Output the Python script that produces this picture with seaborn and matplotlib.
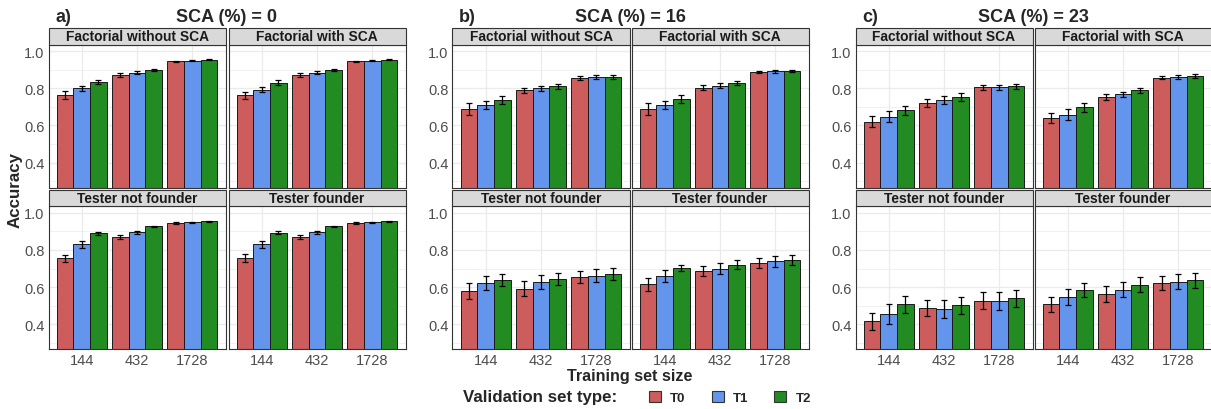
import numpy as np
import pandas as pd
import matplotlib
matplotlib.use("Agg")
import matplotlib.pyplot as plt
from matplotlib.patches import Rectangle, Patch
import seaborn as sns

sizes = ["144", "432", "1728"]
types = ["T0", "T1", "T2"]
facets = ["Factorial without SCA", "Factorial with SCA", "Tester not founder", "Tester founder"]
sca_levels = ["0", "16", "23"]
panel_tags = ["a)", "b)", "c)"]
colors = ["#CD5C5C", "#6495ED", "#228B22"]

# accuracy, order: 144 (T0,T1,T2), 432 (T0,T1,T2), 1728 (T0,T1,T2)
sca0_fac_no = [0.765, 0.800, 0.835, 0.871, 0.885, 0.900, 0.945, 0.949, 0.953]
sca0_fac_sca = [0.762, 0.793, 0.831, 0.871, 0.885, 0.900, 0.945, 0.949, 0.953]
sca0_tes_no = [0.755, 0.830, 0.891, 0.868, 0.895, 0.927, 0.945, 0.948, 0.955]
sca0_tes_fo = [0.757, 0.830, 0.893, 0.868, 0.895, 0.927, 0.945, 0.948, 0.955]
sca16_fac_no = [0.689, 0.711, 0.738, 0.789, 0.800, 0.811, 0.855, 0.860, 0.860]
sca16_fac_sca = [0.689, 0.711, 0.742, 0.804, 0.815, 0.827, 0.887, 0.891, 0.893]
sca16_tes_no = [0.577, 0.623, 0.639, 0.591, 0.627, 0.645, 0.655, 0.662, 0.670]
sca16_tes_fo = [0.614, 0.659, 0.702, 0.686, 0.698, 0.720, 0.730, 0.738, 0.745]
sca23_fac_no = [0.621, 0.648, 0.682, 0.720, 0.737, 0.753, 0.805, 0.805, 0.811]
sca23_fac_sca = [0.639, 0.659, 0.697, 0.753, 0.767, 0.789, 0.858, 0.860, 0.865]
sca23_tes_no = [0.416, 0.455, 0.507, 0.487, 0.482, 0.502, 0.527, 0.527, 0.539]
sca23_tes_fo = [0.507, 0.545, 0.584, 0.564, 0.586, 0.612, 0.623, 0.629, 0.636]

# half width of error bars, same order
sca0_fac_no_err = [0.020, 0.015, 0.012, 0.010, 0.008, 0.006, 0.003, 0.003, 0.003]
sca0_fac_sca_err = [0.020, 0.015, 0.012, 0.010, 0.008, 0.006, 0.003, 0.003, 0.003]
sca0_tes_no_err = [0.020, 0.017, 0.008, 0.010, 0.008, 0.004, 0.003, 0.003, 0.003]
sca0_tes_fo_err = [0.020, 0.017, 0.008, 0.010, 0.008, 0.004, 0.003, 0.003, 0.003]
sca16_fac_no_err = [0.030, 0.022, 0.022, 0.015, 0.015, 0.013, 0.010, 0.010, 0.010]
sca16_fac_sca_err = [0.030, 0.022, 0.022, 0.012, 0.012, 0.010, 0.006, 0.006, 0.006]
sca16_tes_no_err = [0.043, 0.037, 0.034, 0.040, 0.037, 0.032, 0.032, 0.033, 0.033]
sca16_tes_fo_err = [0.037, 0.032, 0.018, 0.025, 0.030, 0.025, 0.028, 0.028, 0.027]
sca23_fac_no_err = [0.030, 0.030, 0.025, 0.022, 0.020, 0.020, 0.015, 0.015, 0.015]
sca23_fac_sca_err = [0.028, 0.028, 0.025, 0.015, 0.015, 0.015, 0.010, 0.010, 0.010]
sca23_tes_no_err = [0.045, 0.055, 0.047, 0.044, 0.050, 0.047, 0.047, 0.049, 0.046]
sca23_tes_fo_err = [0.040, 0.044, 0.039, 0.042, 0.042, 0.041, 0.038, 0.040, 0.040]

means = [[sca0_fac_no, sca0_fac_sca, sca0_tes_no, sca0_tes_fo],
         [sca16_fac_no, sca16_fac_sca, sca16_tes_no, sca16_tes_fo],
         [sca23_fac_no, sca23_fac_sca, sca23_tes_no, sca23_tes_fo]]
errs = [[sca0_fac_no_err, sca0_fac_sca_err, sca0_tes_no_err, sca0_tes_fo_err],
        [sca16_fac_no_err, sca16_fac_sca_err, sca16_tes_no_err, sca16_tes_fo_err],
        [sca23_fac_no_err, sca23_fac_sca_err, sca23_tes_no_err, sca23_tes_fo_err]]

rows = []
for g, sca in enumerate(sca_levels):
    for f, fac in enumerate(facets):
        for i, s in enumerate(sizes):
            for j, t in enumerate(types):
                rows.append({"sca": sca, "facet": fac, "size": s, "type": t,
                             "acc": means[g][f][i * 3 + j], "err": errs[g][f][i * 3 + j]})
df = pd.DataFrame(rows)

sns.set_style("white")
plt.rcParams["font.family"] = ["Liberation Sans", "DejaVu Sans"]

W, H = 1211, 410
fig = plt.figure(figsize=(W / 100, H / 100), dpi=100)

lefts = [[48.5, 228.5], [452.5, 631.5], [855.5, 1034.5]]
tops = [45.7, 207.3]
aw, ah = 177, 143
strip_h = 16.4

for g, sca in enumerate(sca_levels):
    for f, fac in enumerate(facets):
        r, c = divmod(f, 2)
        left = lefts[g][c]
        top = tops[r]
        ax = fig.add_axes([left / W, 1 - (top + ah) / H, aw / W, ah / H])
        sub = df[(df["sca"] == sca) & (df["facet"] == fac)]
        sns.barplot(data=sub, x="size", y="acc", hue="type", order=sizes, hue_order=types,
                    palette=colors, saturation=1, width=0.9, gap=0, errorbar=None,
                    edgecolor="#1a1a1a", linewidth=0.7, legend=False, ax=ax, zorder=2)
        for cont, t in zip(ax.containers, types):
            for bar, s in zip(cont, sizes):
                rec = sub[(sub["type"] == t) & (sub["size"] == s)].iloc[0]
                ax.errorbar(bar.get_x() + bar.get_width() / 2, rec["acc"], yerr=rec["err"],
                            fmt="none", ecolor="black", elinewidth=0.9, capsize=2,
                            capthick=0.9, zorder=3)
        ax.set_xlim(-0.6, 2.6)
        ax.set_ylim(0.265, 1.035)
        ax.set_yticks([0.4, 0.6, 0.8, 1.0])
        ax.set_yticks([0.3, 0.5, 0.7, 0.9], minor=True)
        ax.grid(True, which="major", color="#EBEBEB", linewidth=0.9, zorder=0)
        ax.grid(True, which="minor", axis="y", color="#EBEBEB", linewidth=0.5, zorder=0)
        ax.set_axisbelow(True)
        for sp in ax.spines.values():
            sp.set_visible(True)
            sp.set_color("#333333")
            sp.set_linewidth(0.8)
        ax.tick_params(axis="both", which="major", length=2, color="#333333",
                       labelsize=10.5, labelcolor="#4D4D4D", pad=1)
        ax.tick_params(axis="y", which="minor", length=0)
        ax.set_yticklabels(["0.4", "0.6", "0.8", "1.0"])
        if c == 1:
            ax.tick_params(axis="y", which="major", length=0, labelleft=False)
        if r == 0:
            ax.tick_params(axis="x", length=0, labelbottom=False)
        ax.set_xlabel("")
        ax.set_ylabel("")
        # facet strip
        ax.add_patch(Rectangle((0, 1), 1, strip_h / ah, transform=ax.transAxes,
                               facecolor="#D9D9D9", edgecolor="#333333", linewidth=0.8,
                               clip_on=False, zorder=5))
        ax.text(0.5, 1 + strip_h / ah / 2, fac, transform=ax.transAxes, ha="center",
                va="center", fontsize=9.9, fontweight="bold", color="#1a1a1a", zorder=6)
    # group titles
    gx0 = lefts[g][0]
    gx1 = lefts[g][1] + aw
    fig.text((gx0 + gx1) / 2 / W, 1 - 18 / H, "SCA (%) = " + sca, ha="center", va="center",
             fontsize=13, fontweight="bold")
    fig.text((gx0 + 6.5) / W, 1 - 18 / H, panel_tags[g], ha="left", va="center",
             fontsize=13, fontweight="bold")

fig.text(15 / W, 1 - 190 / H, "Accuracy", rotation=90, ha="center", va="center",
         fontsize=12.2, fontweight="bold")
fig.text(630 / W, 1 - 377 / H, "Training set size", ha="center", va="center",
         fontsize=11.6, fontweight="bold")
fig.text(463 / W, 1 - 398 / H, "Validation set type:", ha="left", va="center",
         fontsize=12.2, fontweight="bold")
handles = [Patch(facecolor=col, edgecolor="#333333", linewidth=0.8, label=t)
           for col, t in zip(colors, types)]
fig.legend(handles=handles, loc="center left", bbox_to_anchor=(649 / W, 1 - 398.5 / H),
           ncol=3, frameon=False, prop={"weight": "bold", "size": 9.5},
           handlelength=0.91, handleheight=0.91, columnspacing=2.0, handletextpad=0.68,
           borderaxespad=0, borderpad=0)

fig.savefig("out.png", dpi=100)
